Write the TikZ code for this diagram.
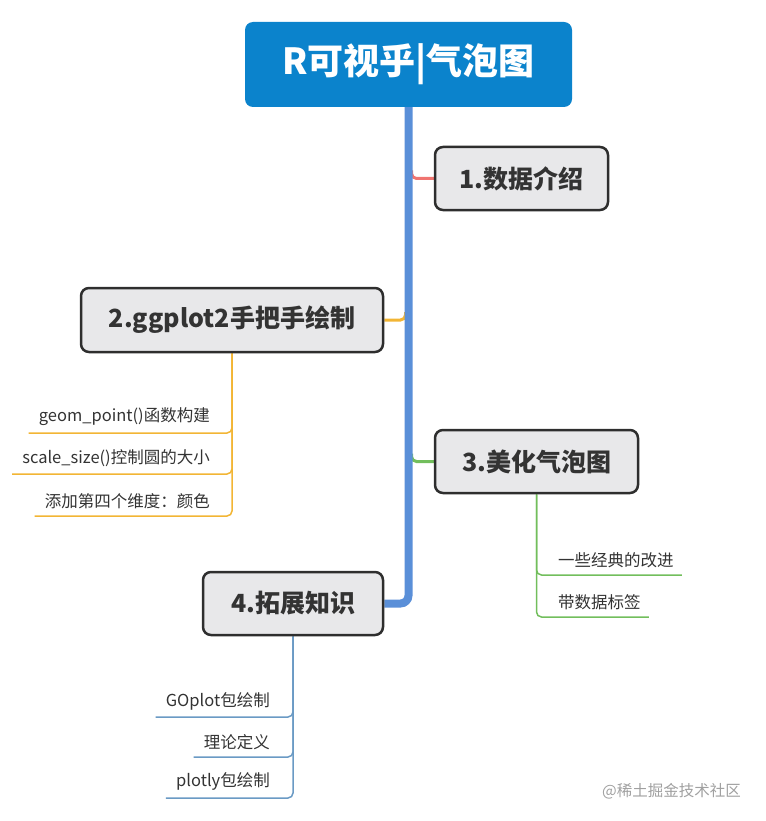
\documentclass[tikz,border=0pt]{standalone}
\usepackage{fontspec}
\setmainfont{Noto Sans CJK SC}
\usepackage{xcolor}
\usepackage{tikz}
\usetikzlibrary{calc,backgrounds}

\definecolor{titleblue}{HTML}{0B83CC}
\definecolor{trunkblue}{HTML}{5A8FD8}
\definecolor{boxfill}{HTML}{E8E8EA}
\definecolor{boxline}{HTML}{2E2E2E}
\definecolor{textdark}{HTML}{333333}
\definecolor{redline}{HTML}{F07470}
\definecolor{yellowline}{HTML}{F2B534}
\definecolor{greenline}{HTML}{72BE5C}
\definecolor{steelline}{HTML}{6A9AC4}
\definecolor{markgray}{HTML}{A0A0A0}

\begin{document}
\begin{tikzpicture}[x=1pt,y=-1pt,
  topic/.style={draw=boxline, line width=2.5pt, fill=boxfill, rounded corners=8pt, text=textdark, font=\fontsize{25}{30}\selectfont\bfseries, inner sep=0pt},
  subitem/.style={text=textdark, font=\fontsize{16.5}{20}\selectfont, inner xsep=0pt, inner ysep=7pt},
  branch/.style={line width=3pt, rounded corners=5pt},
  twig/.style={line width=1.5pt, rounded corners=5pt}]
\useasboundingbox (0,0) rectangle (765,821);
\node[fill=titleblue, rounded corners=8pt, minimum width=327, minimum height=85, text=white, font=\fontsize{36}{40}\selectfont\bfseries] (title) at (408.5,64.5) {R可视乎|气泡图};
\node[topic, minimum width=173, minimum height=63] (b1) at (521.5,178.5) {1.数据介绍};
\node[topic, minimum width=302, minimum height=64] (b2) at (232,320) {2.ggplot2手把手绘制};
\node[topic, minimum width=203, minimum height=63] (b3) at (536.5,461.5) {3.美化气泡图};
\node[topic, minimum width=180, minimum height=63] (b4) at (293,603.5) {4.拓展知识};

\node[subitem, anchor=south east] (s21) at (210,433) {geom\_point()函数构建};
\node[subitem, anchor=south east] (s22) at (210,474) {scale\_size()控制圆的大小};
\node[subitem, anchor=south east] (s23) at (210,516) {添加第四个维度：颜色};
\node[subitem, anchor=south west] (s31) at (558,575) {一些经典的改进};
\node[subitem, anchor=south west] (s32) at (558,617) {带数据标签};
\node[subitem, anchor=south east] (s41) at (270,717) {GOplot包绘制};
\node[subitem, anchor=south east] (s42) at (270,757) {理论定义};
\node[subitem, anchor=south east] (s43) at (270,798) {plotly包绘制};

\node[font=\fontsize{15.5}{18}\selectfont, text=markgray] (mark) at (671.5,791) {@稀土掘金技术社区};

\begin{scope}[on background layer]
\draw[branch, redline] ($(title.south |- b1.west)+(3,-8)$) |- (b1.west);
\draw[branch, yellowline] ($(title.south |- b2.east)+(-3,-8)$) |- (b2.east);
\draw[branch, greenline] ($(title.south |- b3.west)+(3,-8)$) |- (b3.west);
\draw[trunkblue, line width=8pt, rounded corners=8pt] (title.south) |- (b4.east);
\foreach \s in {s21,s22,s23}
  \draw[twig, yellowline] (b2.south) |- ([xshift=-10pt]\s.south west);
\foreach \s in {s31,s32}
  \draw[twig, greenline] (b3.south) |- ([xshift=8pt]\s.south east);
\foreach \s in {s41,s42,s43}
  \draw[twig, steelline] (b4.south) |- ([xshift=-10pt]\s.south west);
\end{scope}
\end{tikzpicture}
\end{document}
